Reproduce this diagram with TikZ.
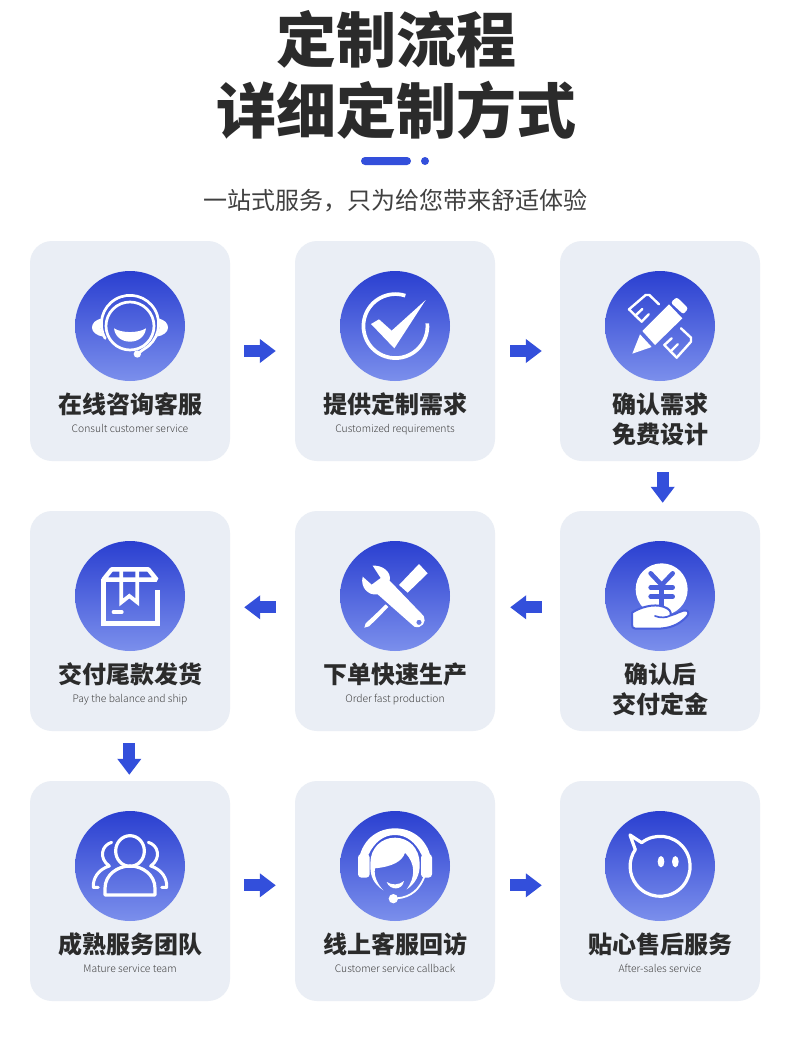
\documentclass[tikz,border=0pt]{standalone}
\usepackage{fontspec}
\setmainfont{Noto Sans CJK SC}
\newfontfamily\lightcjk{Noto Sans CJK SC Light}
\usetikzlibrary{arrows.meta,calc}
\definecolor{ink}{HTML}{2B2B2B}
\definecolor{cardbg}{HTML}{EAEEF5}
\definecolor{accent}{HTML}{334FDB}
\definecolor{discA}{HTML}{2A3FD0}
\definecolor{discB}{HTML}{7B8FEC}
\definecolor{midblue}{HTML}{4A60DC}
\tikzset{
  cardbox/.style={rectangle,rounded corners=22pt,minimum width=200pt,minimum height=220pt,inner sep=0pt,fill=cardbg},
  disc/.style={circle,minimum size=110pt,inner sep=0pt,top color=discA,bottom color=discB},
  ctitle/.style={font=\fontsize{24pt}{24pt}\selectfont\bfseries,text=ink,inner sep=0pt,text height=20pt,text depth=3pt},
  csub/.style={font=\fontsize{10.3pt}{11pt}\selectfont\lightcjk,text=black!75,inner sep=0pt,text height=8pt,text depth=2pt},
  flow/.style={draw=accent,line width=12pt,-{Triangle[length=16pt,width=23pt,fill=accent]}},
  wire/.style={draw=white,line width=3pt,line cap=round,line join=round,fill=none},
  icon/.style={shift={(#1.center)},scale=0.33333,shift={(-300,-258)}}
}
\newcommand{\stepcard}[5]{%
  \node[cardbox] (c#1) at (#2,#3) {};
  \node[disc] (i#1) at (#2,#3-25) {};
  \node[ctitle] (t#1) at (#2,#3+54) {#4};
  \node[csub] (s#1) at (#2,#3+78) {#5};
}
\newcommand{\twostepcard}[5]{%
  \node[cardbox] (c#1) at (#2,#3) {};
  \node[disc] (i#1) at (#2,#3-25) {};
  \node[ctitle] (t#1) at (#2,#3+54) {#4};
  \node[ctitle] (u#1) at (#2,#3+84) {#5};
}
\begin{document}
\begin{tikzpicture}[x=1pt,y=-1pt]
\useasboundingbox (0,0) rectangle (790,1041);
\fill[white] (0,0) rectangle (790,1041);
% header
\node[font=\fontsize{60pt}{60pt}\selectfont\bfseries,text=ink,inner sep=0pt] (h1) at (396,39) {定制流程};
\node[font=\fontsize{60pt}{60pt}\selectfont\bfseries,text=ink,inner sep=0pt] (h2) at (396,110) {详细定制方式};
\fill[accent,rounded corners=4pt] (361,157) rectangle (411,165);
\fill[accent] (425,161) circle[radius=4];
\node[font=\fontsize{24pt}{24pt}\selectfont,text=black!75,inner sep=0pt] (h3) at (395,201) {一站式服务，只为给您带来舒适体验};
% cards
\stepcard{1}{130}{351}{在线咨询客服}{Consult customer service}
\stepcard{2}{395}{351}{提供定制需求}{Customized requirements}
\twostepcard{3}{660}{351}{确认需求}{免费设计}
\stepcard{4}{130}{621}{交付尾款发货}{Pay the balance and ship}
\stepcard{5}{395}{621}{下单快速生产}{Order fast production}
\twostepcard{6}{660}{621}{确认后}{交付定金}
\stepcard{7}{130}{891}{成熟服务团队}{Mature service team}
\stepcard{8}{395}{891}{线上客服回访}{Customer service callback}
\stepcard{9}{660}{891}{贴心售后服务}{After-sales service}
% connectors
\draw[flow,shorten <=14pt,shorten >=19pt] (c1.east) -- (c2.west);
\draw[flow,shorten <=15pt,shorten >=18pt] (c2.east) -- (c3.west);
\draw[flow,shorten <=11pt,shorten >=8pt] ([xshift=2.7pt]c3.south) -- ([xshift=2.7pt]c6.north);
\draw[flow,shorten <=18pt,shorten >=15pt] ([yshift=13.7pt]c6.west) -- ([yshift=13.7pt]c5.east);
\draw[flow,shorten <=19pt,shorten >=14pt] ([yshift=13.7pt]c5.west) -- ([yshift=13.7pt]c4.east);
\draw[flow,shorten <=12pt,shorten >=6pt] ([xshift=-0.7pt]c4.south) -- ([xshift=-0.7pt]c7.north);
\draw[flow,shorten <=14pt,shorten >=19pt] ([yshift=5.7pt]c7.east) -- ([yshift=5.7pt]c8.west);
\draw[flow,shorten <=15pt,shorten >=18pt] ([yshift=5.7pt]c8.east) -- ([yshift=5.7pt]c9.west);
% icon 1: headset smile
\begin{scope}[icon=i1]
  \draw[wire,line width=2.7pt] (300,258) circle[radius=72];
  \draw[wire,line width=2.7pt] (225.5,295) arc[start angle=150,end angle=420,radius=86] -- (322,342);
  \fill[white] (322,342) circle[radius=11];
  \fill[white] (216,235) .. controls (195,240) and (186,250) .. (186,263) .. controls (186,276) and (200,287) .. (220,290) .. controls (210,270) and (208,255) .. (216,235) -- cycle;
  \fill[white] (384,235) .. controls (405,240) and (414,250) .. (414,263) .. controls (414,276) and (400,287) .. (380,290) .. controls (390,270) and (392,255) .. (384,235) -- cycle;
  \fill[white] (252,265) .. controls (275,280) and (325,280) .. (348,265) .. controls (345,290) and (325,305) .. (300,305) .. controls (275,305) and (255,290) .. (252,265) -- cycle;
\end{scope}
% icon 2: check
\begin{scope}[icon=i2]
  \draw[wire,line width=3.7pt,line cap=butt] (331,167) arc[start angle=-72,end angle=-365,radius=96];
  \fill[white] (228,252) -- (252,238) -- (290,272) -- (392,180) -- (298,325) -- cycle;
\end{scope}
% icon 3: pencil and rulers
\begin{scope}[icon=i3]
  \fill[white] (247,273) -- (327,193) -- (367,235) -- (285,315) -- cycle;
  \fill[white,rounded corners=2.5pt] (332,188) -- (350,171) -- (385,205) -- (370,223) -- cycle;
  \fill[white] (240,283) -- (275,321) -- (217,341) -- cycle;
  \draw[wire,line width=2.4pt] (297,193) -- (268,165) -- (257,165) -- (207,208) -- (245,245) -- (266,223);
  \draw[wire,line width=2.4pt] (226,227) -- (247,207);
  \draw[wire,line width=2.4pt] (363,265) -- (393,293) -- (393,305) -- (350,353) -- (313,315) -- (335,295);
  \draw[wire,line width=2.4pt] (332,334) -- (353,313);
\end{scope}
% icon 4: parcel
\begin{scope}[icon=i4]
  \draw[wire,line width=4.4pt,line cap=butt,line join=miter] (220,207) -- (220,340) -- (382,340) -- (382,240);
  \draw[wire,line width=4.4pt,line cap=butt,line join=bevel] (245,178) -- (355,178) -- (380,209) -- (220,209) -- cycle;
  \draw[wire,line width=3.8pt,line cap=butt,line join=miter] (274,178) -- (274,277) -- (298,258) -- (322,277) -- (322,178);
  \draw[wire,line width=3.3pt] (250,306) -- (276,306);
\end{scope}
% icon 5: tools
\begin{scope}[icon=i5]
  \fill[white,even odd rule] (233,167) .. controls (262,165) and (290,185) .. (284,212) -- (386,318) .. controls (396,335) and (380,358) .. (358,350) -- (248,253) .. controls (220,258) and (195,232) .. (203,200) -- (230,224) -- (257,204) -- cycle (372,337) circle[radius=8];
  \fill[white] (372,162) -- (398,190) -- (338,248) -- (312,225) -- cycle;
  \fill[white] (272,283) -- (280,291) -- (246,326) -- (222,349) -- (208,353) -- (212,340) -- (238,316) -- cycle;
\end{scope}
% icon 6: coin in hand
\begin{scope}[icon=i6]
  \fill[white] (305,238) circle[radius=78];
  \draw[draw=midblue,line width=4.6pt,line cap=round,line join=round] (272,190) -- (305,225) -- (338,190);
  \draw[draw=midblue,line width=4.6pt,line cap=round] (272,232) -- (338,232);
  \draw[draw=midblue,line width=4.6pt,line cap=round] (272,260) -- (338,260);
  \draw[draw=midblue,line width=4.6pt,line cap=round] (305,225) -- (305,290);
  \draw[draw=midblue,line width=2pt,fill=white,line join=round] (216,308) .. controls (240,292) and (280,280) .. (310,290) .. controls (328,296) and (334,304) .. (332,316) .. controls (350,312) and (368,298) .. (380,302) .. controls (388,305) and (386,314) .. (378,322) .. controls (356,344) and (330,356) .. (290,356) -- (226,356) .. controls (218,356) and (215,350) .. (216,342) -- cycle;
  \draw[draw=midblue,line width=1.7pt,line cap=round] (285,318) .. controls (300,324) and (320,324) .. (332,316);
\end{scope}
% icon 7: team
\begin{scope}[icon=i7]
  \draw[wire,line width=3.2pt] (300,213) ellipse[x radius=43,y radius=46];
  \draw[wire,line width=3.2pt] (225,345) -- (225,325) .. controls (225,285) and (262,258) .. (300,258) .. controls (338,258) and (375,285) .. (375,325) -- (375,345) -- cycle;
  \draw[wire,line width=3pt] (245,187) .. controls (215,195) and (205,235) .. (238,258) .. controls (205,268) and (188,295) .. (190,322) -- (205,322);
  \draw[wire,line width=3pt] (355,187) .. controls (385,195) and (395,235) .. (362,258) .. controls (395,268) and (412,295) .. (410,322) -- (395,322);
\end{scope}
% icon 8: agent
\begin{scope}[icon=i8]
  \fill[white] (192,235) .. controls (205,175) and (250,145) .. (300,145) .. controls (350,145) and (395,175) .. (408,235) -- (380,225) .. controls (362,187) and (335,165) .. (300,165) .. controls (265,165) and (238,187) .. (220,225) -- cycle;
  \fill[white,rounded corners=3.5pt] (189,222) rectangle (224,293);
  \fill[white,rounded corners=3.5pt] (378,222) rectangle (411,293);
  \fill[white] (265,331) .. controls (238,312) and (224,292) .. (226,250) .. controls (226,205) and (258,173) .. (300,173) .. controls (342,173) and (373,205) .. (374,250) .. controls (376,285) and (360,312) .. (335,328) .. controls (362,292) and (362,250) .. (330,218) .. controls (322,245) and (290,260) .. (240,265) .. controls (235,290) and (250,315) .. (265,331) -- cycle;
  \fill[white] (275,306) .. controls (290,316) and (312,316) .. (327,303) .. controls (322,332) and (285,332) .. (275,306) -- cycle;
  \draw[wire,line width=1.8pt] (388,290) .. controls (375,325) and (350,352) .. (305,355);
  \fill[white] (295,356) circle[radius=14];
\end{scope}
% icon 9: chat face
\begin{scope}[icon=i9]
  \draw[wire,line width=3.2pt] (245,188) arc[start angle=232,end angle=574,radius=90] -- (210,165) -- cycle;
  \fill[white] (303,245) ellipse[x radius=10,y radius=17];
  \fill[white] (346,245) ellipse[x radius=10,y radius=17];
\end{scope}
\end{tikzpicture}
\end{document}
